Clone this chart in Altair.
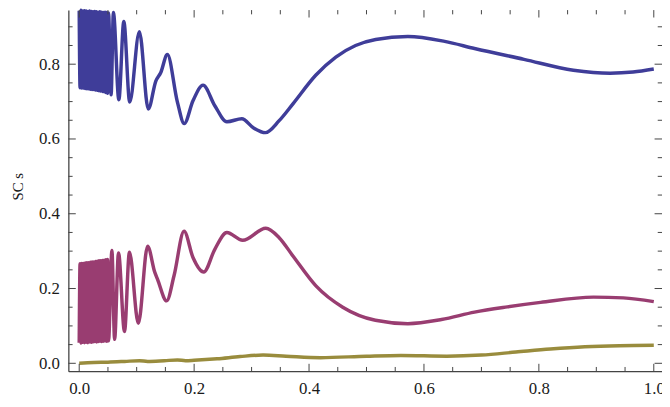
import altair as alt
import pandas as pd

# ---------------- data ----------------
# dense oscillation region (shared x positions of the extremes)
dense_x = [0.0000, 0.0015, 0.0030, 0.0045, 0.0060, 0.0075, 0.0090, 0.0105, 0.0120,
           0.0135, 0.0150, 0.0165, 0.0180, 0.0195, 0.0210, 0.0225, 0.0240, 0.0255,
           0.0270, 0.0285, 0.0300, 0.0315, 0.0330, 0.0345, 0.0360, 0.0375, 0.0390,
           0.0405, 0.0420, 0.0435, 0.0450, 0.0465, 0.0480, 0.0495, 0.0510]

blue_dense_y = [0.943, 0.737, 0.944, 0.736, 0.942, 0.736, 0.943, 0.735, 0.942,
                0.734, 0.941, 0.734, 0.942, 0.733, 0.941, 0.732, 0.940, 0.732,
                0.941, 0.731, 0.940, 0.730, 0.939, 0.729, 0.940, 0.728, 0.939,
                0.727, 0.938, 0.726, 0.939, 0.724, 0.938, 0.722, 0.937]

purple_dense_y = [0.055, 0.266, 0.054, 0.267, 0.056, 0.267, 0.055, 0.268, 0.056,
                  0.269, 0.055, 0.269, 0.057, 0.270, 0.056, 0.271, 0.057, 0.271,
                  0.058, 0.272, 0.057, 0.273, 0.058, 0.274, 0.059, 0.274, 0.058,
                  0.275, 0.059, 0.276, 0.060, 0.277, 0.059, 0.278, 0.060]

blue_tail_x = [0.0555, 0.0595, 0.0690, 0.0776, 0.0879, 0.1047, 0.1202, 0.1333, 0.1420,
               0.1534, 0.1707, 0.1828, 0.1980, 0.2155, 0.2360, 0.2570, 0.2830, 0.3030,
               0.3240, 0.3480, 0.3720, 0.4120, 0.4466, 0.4810, 0.5160, 0.5720, 0.6360,
               0.6880, 0.7740, 0.8600, 0.9240, 0.9640, 1.0000]
blue_tail_y = [0.718, 0.938, 0.705, 0.914, 0.699, 0.887, 0.680, 0.755, 0.778,
               0.826, 0.700, 0.641, 0.702, 0.744, 0.689, 0.646, 0.654, 0.630,
               0.617, 0.649, 0.694, 0.771, 0.819, 0.850, 0.866, 0.874, 0.861,
               0.842, 0.813, 0.784, 0.776, 0.779, 0.787]

purple_tail_x = [0.0569, 0.0616, 0.0684, 0.0788, 0.0874, 0.1029, 0.1190, 0.1316, 0.1362,
                 0.1522, 0.1650, 0.1825, 0.1980, 0.2167, 0.2360, 0.2570, 0.2845, 0.3247,
                 0.3480, 0.3720, 0.4120, 0.4586, 0.5155, 0.5720, 0.6305, 0.6880, 0.7450,
                 0.8030, 0.8950, 0.9470, 1.0000]
purple_tail_y = [0.302, 0.064, 0.295, 0.085, 0.297, 0.107, 0.313, 0.243, 0.225,
                 0.167, 0.234, 0.353, 0.283, 0.244, 0.305, 0.350, 0.329, 0.361,
                 0.336, 0.287, 0.207, 0.150, 0.115, 0.106, 0.117, 0.137, 0.151,
                 0.163, 0.177, 0.175, 0.165]

olive_x = [0.000, 0.025, 0.050, 0.079, 0.105, 0.119, 0.148, 0.171, 0.185, 0.200,
           0.240, 0.280, 0.320, 0.360, 0.420, 0.500, 0.560, 0.640, 0.700, 0.760,
           0.820, 0.880, 0.940, 1.000]
olive_y = [0.000, 0.002, 0.003, 0.005, 0.007, 0.005, 0.007, 0.009, 0.007, 0.008,
           0.012, 0.018, 0.022, 0.019, 0.015, 0.019, 0.021, 0.019, 0.022, 0.030,
           0.038, 0.044, 0.047, 0.048]

series_names = ["blue", "purple", "olive"]
series_colors = ["#3F3D99", "#993D71", "#998C3D"]

x_major = [0.0, 0.2, 0.4, 0.6, 0.8, 1.0]
x_minor = [0.05, 0.1, 0.15, 0.25, 0.3, 0.35, 0.45, 0.5, 0.55, 0.65, 0.7, 0.75,
           0.85, 0.9, 0.95]
y_major = [0.0, 0.2, 0.4, 0.6, 0.8]
y_minor = [0.05, 0.1, 0.15, 0.25, 0.3, 0.35, 0.45, 0.5, 0.55, 0.65, 0.7, 0.75,
           0.85, 0.9]

y_title = "SC s"

# ---------------- build tables ----------------
rows = []
for xv, yv in zip(dense_x + blue_tail_x, blue_dense_y + blue_tail_y):
    rows.append({"x": xv, "y": yv, "s": "blue"})
for xv, yv in zip(dense_x + purple_tail_x, purple_dense_y + purple_tail_y):
    rows.append({"x": xv, "y": yv, "s": "purple"})
for xv, yv in zip(olive_x, olive_y):
    rows.append({"x": xv, "y": yv, "s": "olive"})
df = pd.DataFrame(rows)

W, H = 600, 365
FRAME = "#444444"
FONT = "Liberation Serif"
MAJ, MIN = 7.5, 4.3

xs = alt.Scale(domain=[-0.0189, 1.0143], nice=False, zero=False)
ys = alt.Scale(domain=[-0.0212, 0.9447], nice=False, zero=False)

ax_x = alt.Axis(
    values=x_major, format=".1f", title=None, ticks=False, tickSize=0,
    domain=True, domainColor=FRAME, domainWidth=1.3, grid=False,
    labelFont=FONT, labelFontSize=17, labelColor="#1a1a1a",
    labelPadding=10, labelFlush=False)
ax_y = alt.Axis(
    values=y_major, format=".1f", title=y_title, ticks=False, tickSize=0,
    domain=True, domainColor=FRAME, domainWidth=1.3, grid=False,
    labelFont=FONT, labelFontSize=17, labelColor="#1a1a1a",
    labelPadding=9, labelFlush=False,
    titleFont=FONT, titleFontSize=15, titleFontWeight="normal",
    titleColor="#1a1a1a", titleX=-46, titleY=178, titleAngle=270,
    titleAlign="center", titleBaseline="alphabetic")

lines = alt.Chart(df).mark_line(
    interpolate="monotone", strokeWidth=3.5, strokeJoin="round"
).encode(
    x=alt.X("x:Q", scale=xs, axis=ax_x, title=None),
    y=alt.Y("y:Q", scale=ys, axis=ax_y, title=y_title),
    color=alt.Color("s:N", scale=alt.Scale(domain=series_names, range=series_colors),
                    legend=None),
    detail="s:N",
)


def xticks(vals, length, top):
    d = pd.DataFrame({"x": vals})
    if top:
        y0, y1 = 0, length
    else:
        y0, y1 = H, H - length
    return alt.Chart(d).mark_rule(color=FRAME, strokeWidth=1).encode(
        x=alt.X("x:Q", scale=xs, axis=ax_x, title=None),
        y=alt.value(y0), y2=alt.value(y1))


def yticks(vals, length, right):
    d = pd.DataFrame({"y": vals})
    if right:
        x0, x1 = W, W - length
    else:
        x0, x1 = 0, length
    return alt.Chart(d).mark_rule(color=FRAME, strokeWidth=1).encode(
        y=alt.Y("y:Q", scale=ys, axis=ax_y, title=y_title),
        x=alt.value(x0), x2=alt.value(x1))


chart = alt.layer(
    lines,
    xticks(x_major, MAJ, False), xticks(x_minor, MIN, False),
    xticks(x_major, MAJ, True), xticks(x_minor, MIN, True),
    yticks(y_major, MAJ, False), yticks(y_minor, MIN, False),
    yticks(y_major, MAJ, True), yticks(y_minor, MIN, True),
).properties(
    width=W, height=H,
    autosize=alt.AutoSizeParams(type="none"),
    padding={"left": 61, "top": 0, "right": 0, "bottom": 30},
).configure_view(stroke=None)

chart.save("out.html", embed_options={"renderer": "svg", "actions": False})
